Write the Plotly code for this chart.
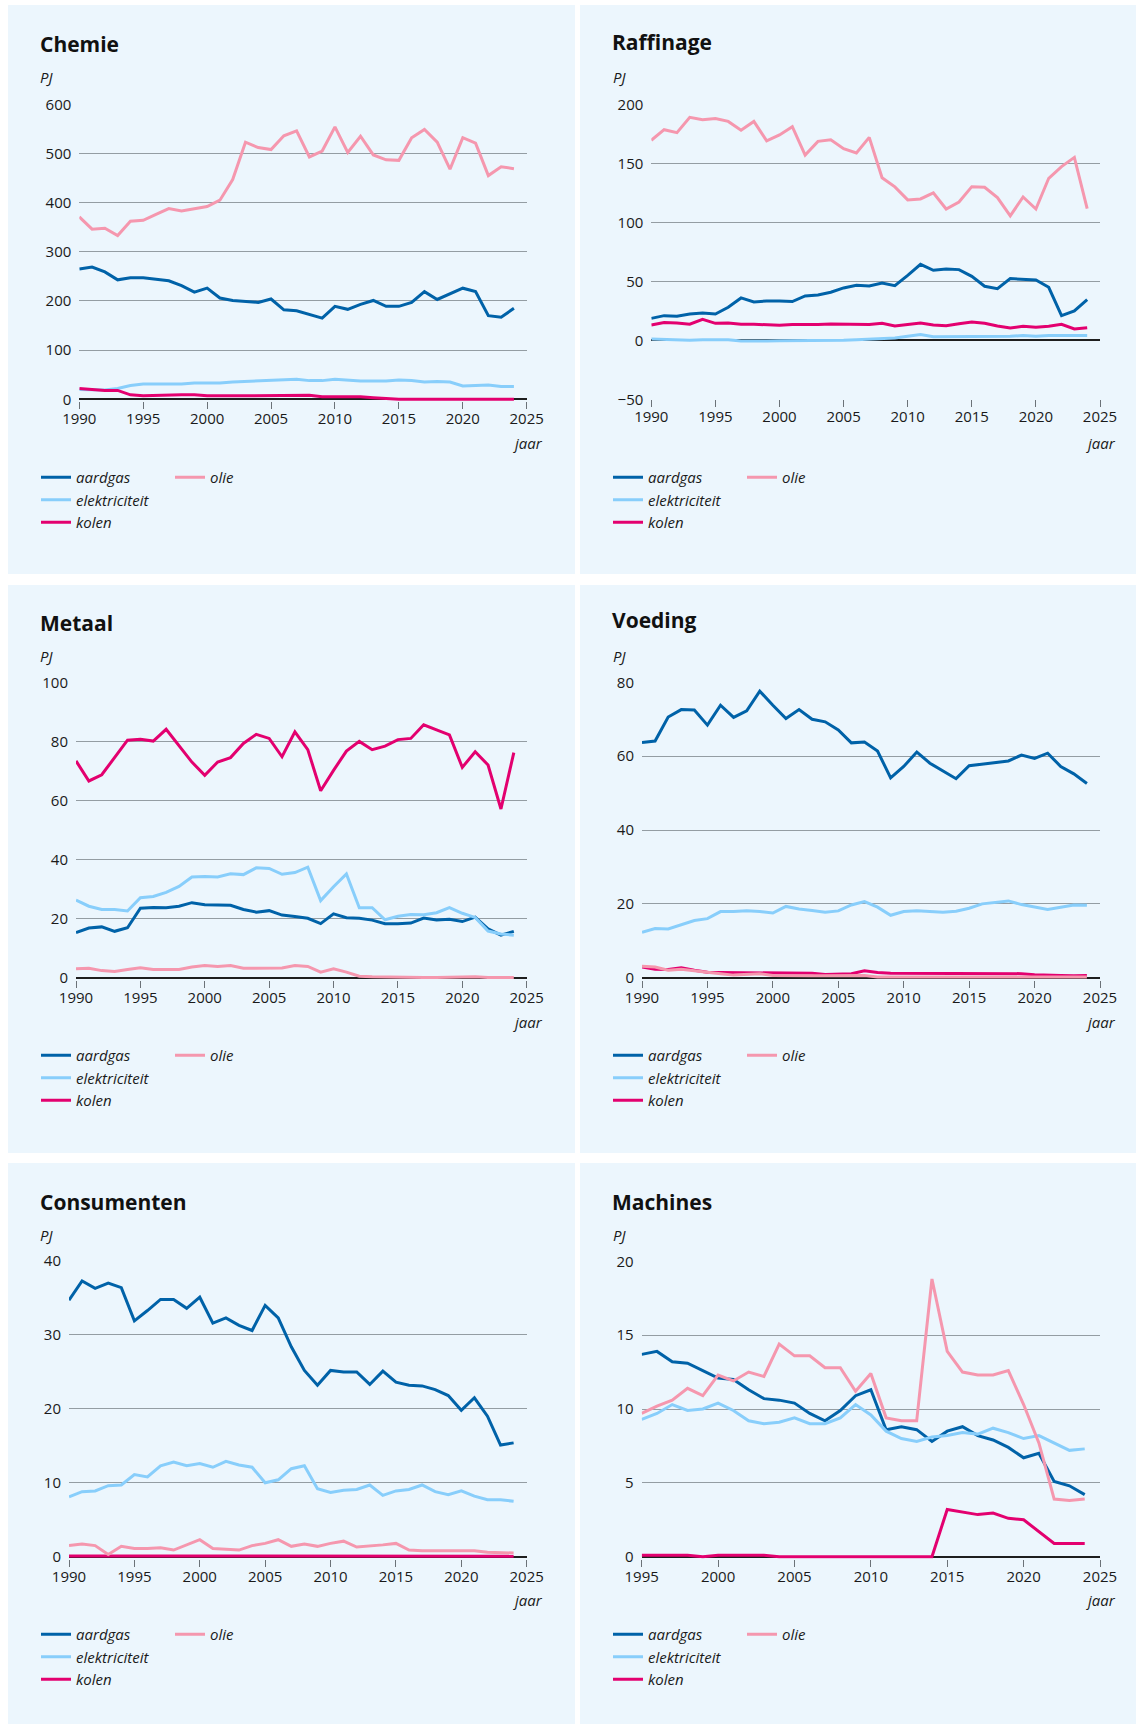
import plotly.graph_objects as go

W, H = 1136, 1724

# ---------------- data ----------------
years = list(range(1990, 2025))
years_machines = list(range(1995, 2025))
x_ticks = [1990, 1995, 2000, 2005, 2010, 2015, 2020, 2025]
x_ticks_machines = [1995, 2000, 2005, 2010, 2015, 2020, 2025]

series_names = ["aardgas", "elektriciteit", "kolen", "olie"]
panel_titles = ["Chemie", "Raffinage", "Metaal", "Voeding", "Consumenten", "Machines"]

chemie_aardgas = [265, 269, 259, 243, 247, 247, 244, 241, 231, 218, 226, 206, 201, 199, 197, 204, 182, 180, 172, 165,
                  189, 183, 193, 201, 189, 189, 197, 219, 203, 214, 226, 219, 170, 167, 185]
chemie_elektriciteit = [20, 20, 19, 22, 28, 31, 31, 31, 31, 33, 33, 33, 35, 36, 37, 38, 39, 41, 38, 38,
                        41, 39, 37, 37, 37, 39, 38, 35, 36, 35, 27, 28, 29, 26, 26]
chemie_kolen = [22, 20, 18, 18, 9, 7, 8, 9, 9, 9, 7, 7, 7, 7, 7, 7, 7, 7, 8, 5,
                5, 6, 5, 3, 1, 0, 0, 0, 0, 0, 0, 0, 0, 0, 0]
chemie_olie = [371, 346, 348, 333, 362, 364, 376, 388, 383, 388, 392, 405, 447, 523, 512, 508, 536, 546, 493, 505,
               554, 502, 535, 497, 487, 486, 532, 549, 523, 468, 532, 521, 455, 473, 469]

raffinage_aardgas = [18.6, 20.9, 20.3, 22.3, 23.2, 22.3, 28.0, 35.9, 32.5, 33.3, 33.3, 32.8, 37.6, 38.4, 40.7, 44.4,
                     46.6, 46.0, 48.6, 46.3, 55.0, 64.4, 59.3, 60.5, 59.9, 54.2, 45.8, 43.8, 52.3, 51.7, 51.1, 44.9,
                     20.9, 24.9, 34.5]
raffinage_elektriciteit = [1.0, 0.5, 0.0, 0.0, 0.5, 0.5, 0.5, -0.5, -0.8, -0.5, -0.3, -0.3, -0.5, -0.3, -0.5, 0.0,
                           0.5, 1.0, 1.0, 2.0, 3.5, 5.0, 3.0, 3.0, 3.0, 3.0, 3.0, 3.5, 3.5, 4.0, 3.5, 4.0, 4.0, 4.0, 4.0]
raffinage_kolen = [13.0, 15.0, 14.7, 13.6, 17.8, 14.4, 14.7, 13.6, 13.6, 13.0, 12.7, 13.3, 13.0, 13.3, 13.8, 13.6,
                   13.0, 13.3, 14.4, 12.1, 13.3, 14.7, 13.0, 12.4, 14.1, 15.5, 14.4, 12.1, 10.5, 11.9, 11.0, 11.9,
                   13.6, 9.6, 10.7]
raffinage_olie = [169.5, 178.5, 176, 189, 187, 188, 185.5, 178, 185.5, 169, 174, 181, 157, 168.6, 170, 162.4, 158.8,
                  172, 137.8, 130, 119, 119.8, 125, 111.3, 117.2, 130.2, 129.7, 121, 105.4, 121.5, 111.3, 137.3,
                  147.2, 155, 111.6]

metaal_aardgas = [15.3, 16.8, 17.2, 15.7, 16.9, 23.5, 23.8, 23.7, 24.2, 25.4, 24.7, 24.6, 24.5, 23.1, 22.2, 22.7,
                  21.2, 20.7, 20.1, 18.3, 21.6, 20.3, 20.1, 19.5, 18.3, 18.3, 18.5, 20.2, 19.5, 19.8, 19.0, 20.5,
                  16.5, 14.4, 15.7]
metaal_elektriciteit = [26.3, 24.2, 23.1, 23.1, 22.6, 27.1, 27.5, 28.9, 30.9, 34.1, 34.3, 34.1, 35.2, 34.9, 37.2,
                        37.0, 35.0, 35.6, 37.4, 26.1, 30.8, 35.1, 23.7, 23.7, 19.6, 20.8, 21.4, 21.3, 22.0, 23.7,
                        21.8, 20.4, 15.8, 14.8, 14.4]
metaal_kolen = [73.4, 66.6, 68.7, 74.6, 80.4, 80.7, 80.1, 84.1, 78.4, 73.0, 68.5, 73.0, 74.5, 79.3, 82.4, 81.0,
                74.8, 83.2, 77.2, 63.3, 70.2, 76.7, 80.0, 77.2, 78.4, 80.6, 81.0, 85.6, 83.9, 82.2, 71.2, 76.5,
                72.0, 57.1, 76.2]
metaal_olie = [3.0, 3.2, 2.4, 2.1, 2.8, 3.4, 2.8, 2.7, 2.8, 3.6, 4.1, 3.8, 4.1, 3.2, 3.3, 3.3, 3.3, 4.1, 3.8, 1.9,
               3.0, 1.9, 0.5, 0.3, 0.2, 0.1, 0.0, 0.1, 0.1, 0.2, 0.2, 0.3, 0.1, 0.1, 0.1]

voeding_aardgas = [63.7, 64.1, 70.6, 72.6, 72.5, 68.4, 73.8, 70.5, 72.3, 77.6, 73.8, 70.2, 72.6, 70.0, 69.3, 67.1,
                   63.6, 63.8, 61.4, 54.1, 57.2, 61.1, 58.1, 56.1, 53.9, 57.4, 57.9, 58.3, 58.7, 60.3, 59.4, 60.8,
                   57.2, 55.2, 52.6]
voeding_elektriciteit = [12.3, 13.3, 13.2, 14.4, 15.5, 16.0, 17.9, 17.9, 18.1, 17.9, 17.5, 19.3, 18.6, 18.2, 17.7,
                         18.1, 19.7, 20.6, 19.1, 16.9, 17.9, 18.1, 18.0, 17.7, 18.0, 18.8, 20.0, 20.5, 20.8, 19.8,
                         19.1, 18.5, 19.1, 19.7, 19.6]
voeding_kolen = [2.9, 2.3, 2.2, 2.7, 2.0, 1.5, 1.4, 1.4, 1.3, 1.3, 1.4, 1.4, 1.4, 1.2, 0.9, 0.9, 1.1, 1.9, 1.4, 1.2,
                 1.2, 1.2, 1.2, 1.2, 1.2, 1.0, 1.1, 1.1, 1.1, 1.1, 0.8, 0.8, 0.6, 0.5, 0.6]
voeding_olie = [3.1, 2.9, 2.0, 2.3, 1.9, 1.4, 1.1, 0.7, 0.9, 1.1, 0.6, 0.5, 0.5, 0.5, 0.5, 0.6, 0.7, 0.6, 0.2, 0.2,
                0.2, 0.3, 0.3, 0.2, 0.3, 0.3, 0.2, 0.2, 0.2, 0.2, 0.3, 0.3, 0.2, 0.2, 0.2]

consumenten_aardgas = [34.7, 37.3, 36.3, 37.0, 36.4, 31.9, 33.3, 34.8, 34.8, 33.6, 35.1, 31.6, 32.3, 31.3, 30.6,
                       34.0, 32.3, 28.4, 25.2, 23.2, 25.2, 25.0, 25.0, 23.3, 25.1, 23.6, 23.2, 23.1, 22.6, 21.8,
                       19.8, 21.5, 19.0, 15.1, 15.4]
consumenten_elektriciteit = [8.1, 8.8, 8.9, 9.6, 9.7, 11.1, 10.8, 12.3, 12.8, 12.3, 12.6, 12.1, 12.9, 12.4, 12.1,
                             10.0, 10.4, 11.9, 12.3, 9.2, 8.7, 9.0, 9.1, 9.7, 8.3, 8.9, 9.1, 9.7, 8.8, 8.4, 8.9,
                             8.2, 7.7, 7.7, 7.5]
consumenten_kolen = [0.1, 0.1, 0.1, 0.1, 0.1, 0.1, 0.1, 0.1, 0.1, 0.1, 0.1, 0.1, 0.15, 0.1, 0.1, 0.15, 0.05, 0.05,
                     0.05, 0.05, 0.05, 0.05, 0.05, 0.05, 0.05, 0.05, 0.05, 0.05, 0.05, 0.05, 0.05, 0.05, 0.05,
                     0.05, 0.05]
consumenten_olie = [1.5, 1.7, 1.5, 0.3, 1.4, 1.1, 1.1, 1.2, 0.9, 1.6, 2.3, 1.1, 1.0, 0.9, 1.5, 1.8, 2.3, 1.4, 1.7,
                    1.4, 1.8, 2.1, 1.3, 1.4, 1.6, 1.8, 0.9, 0.8, 0.8, 0.9, 0.8, 0.8, 0.6, 0.5, 0.5]

machines_aardgas = [13.7, 13.9, 13.2, 13.1, 12.6, 12.1, 12.0, 11.3, 10.7, 10.6, 10.4, 9.7, 9.2, 9.9, 10.9, 11.3,
                    8.6, 8.8, 8.6, 7.8, 8.5, 8.8, 8.2, 7.9, 7.4, 6.7, 7.0, 5.1, 4.8, 4.2]
machines_elektriciteit = [9.3, 9.7, 10.3, 9.9, 10.0, 10.4, 9.9, 9.2, 9.0, 9.1, 9.4, 9.0, 9.0, 9.4, 10.3, 9.6, 8.5,
                          8.0, 7.8, 8.1, 8.2, 8.4, 8.3, 8.7, 8.4, 8.0, 8.2, 7.7, 7.2, 7.3]
machines_kolen = [0.1, 0.1, 0.1, 0.1, 0.0, 0.1, 0.1, 0.1, 0.1, 0.0, 0.0, 0.0, 0.0, 0.0, 0.0, 0.0, 0.0, 0.0, 0.0,
                  0.0, 3.2, 3.0, 2.85, 2.95, 2.6, 2.5, 1.7, 0.9, 0.9, 0.9]
machines_olie = [9.7, 10.2, 10.6, 11.4, 10.9, 12.3, 11.9, 12.5, 12.2, 14.4, 13.6, 13.6, 12.8, 12.8, 11.2, 12.4, 9.4,
                 9.2, 9.2, 18.8, 13.9, 12.5, 12.3, 12.3, 12.6, 10.3, 7.7, 3.9, 3.8, 3.9]

panel_data = [
    (years, [chemie_aardgas, chemie_elektriciteit, chemie_kolen, chemie_olie]),
    (years, [raffinage_aardgas, raffinage_elektriciteit, raffinage_kolen, raffinage_olie]),
    (years, [metaal_aardgas, metaal_elektriciteit, metaal_kolen, metaal_olie]),
    (years, [voeding_aardgas, voeding_elektriciteit, voeding_kolen, voeding_olie]),
    (years, [consumenten_aardgas, consumenten_elektriciteit, consumenten_kolen, consumenten_olie]),
    (years_machines, [machines_aardgas, machines_elektriciteit, machines_kolen, machines_olie]),
]
y_ranges = [(0, 600, 100), (-50, 200, 50), (0, 100, 20), (0, 80, 20), (0, 40, 10), (0, 20, 5)]
x_ranges = [(1990, 2025, x_ticks)] * 5 + [(1995, 2025, x_ticks_machines)]

# ---------------- style / layout ----------------
colors = {"aardgas": "#0062a8", "elektriciteit": "#88cefb", "kolen": "#e3006f", "olie": "#f597ae"}
BG = "#ecf6fd"
FONT = "Open Sans"
TXT = "#1a1a1a"

# panel geometry in pixels (from top-left): background box, plot box, title/PJ/jaar/legend rows
panels = [
    dict(bg=(8, 575, 5, 574), plot=(79.3, 526.7, 104.3, 399.3), title=(38, 44.5), pj=(38, 77), jaar=(545, 443), leg=475),
    dict(bg=(580, 1136, 5, 574), plot=(651.3, 1100, 104.3, 399.3), title=(610, 42), pj=(610.6, 77), jaar=(1118, 443), leg=475),
    dict(bg=(8, 575, 585, 1153), plot=(76, 526.7, 682.3, 977.7), title=(38, 622.5), pj=(38, 656), jaar=(545, 1022), leg=1053),
    dict(bg=(580, 1136, 585, 1153), plot=(642, 1100, 682.3, 977.7), title=(610, 620.5), pj=(610.6, 656), jaar=(1118, 1022), leg=1053),
    dict(bg=(8, 575, 1163, 1724), plot=(69, 526.7, 1261, 1556.7), title=(38, 1201.5), pj=(38, 1235), jaar=(545, 1600), leg=1632),
    dict(bg=(580, 1136, 1163, 1724), plot=(641.7, 1100, 1261.3, 1556.7), title=(610, 1201.5), pj=(610.6, 1235), jaar=(1118, 1600), leg=1632),
]

def px(x):
    return x / W

def py(y):
    return 1 - y / H

fig = go.Figure()
layout = dict(
    width=W, height=H, margin=dict(l=0, r=0, t=0, b=0, autoexpand=False),
    paper_bgcolor="white", plot_bgcolor="rgba(0,0,0,0)", showlegend=True,
    font=dict(family=FONT, size=15, color=TXT),
)
shapes, annotations = [], []
PAD = 2.0  # px of room below the zero line so lines at 0 are not clipped

for i, (p, (xs, ser), (ymin, ymax, dy), (xmin, xmax, xt)) in enumerate(zip(panels, panel_data, y_ranges, x_ranges)):
    k = i + 1
    ax = "" if k == 1 else str(k)
    x0, x1, yt, yb = p["plot"]
    unit_per_px = (ymax - ymin) / (yb - yt)
    lo = ymin - PAD * unit_per_px if ymin == 0 else ymin
    yb_eff = yb + PAD if ymin == 0 else yb

    leg_a = "legend" if k == 1 else f"legend{2 * k - 1}"
    leg_b = f"legend{2 * k}"
    for name, vals in zip(series_names, ser):
        fig.add_trace(go.Scatter(
            x=xs, y=vals, mode="lines", name=name,
            line=dict(color=colors[name], width=3),
            xaxis=f"x{ax}", yaxis=f"y{ax}",
            legend=leg_b if name == "olie" else leg_a,
            legendgroup=f"{k}-{name}",
            hoverinfo="skip",
        ))

    layout[f"xaxis{ax}"] = dict(
        domain=[px(x0), px(x1)], anchor=f"y{ax}", range=[xmin, xmax], automargin=False,
        tickmode="array", tickvals=xt, ticks="outside", ticklen=7, tickwidth=1, tickcolor="#6b7278",
        showgrid=False, zeroline=False, showline=False,
        tickfont=dict(family=FONT, size=15, color=TXT), ticklabelstandoff=-3, fixedrange=True,
    )
    layout[f"yaxis{ax}"] = dict(
        domain=[py(yb_eff), py(yt)], anchor=f"x{ax}", range=[lo, ymax], automargin=False,
        tickmode="linear", tick0=ymin, dtick=dy, ticks="", showline=False,
        showgrid=True, gridcolor="#949da3", gridwidth=1,
        zeroline=True, zerolinecolor="#1e1e1e", zerolinewidth=1.6,
        tickfont=dict(family=FONT, size=15, color=TXT), ticklabelstandoff=7, fixedrange=True,
    )

    bx0, bx1, by0, by1 = p["bg"]
    shapes.append(dict(type="rect", xref="paper", yref="paper", x0=px(bx0), x1=px(bx1), y0=py(by1), y1=py(by0),
                       fillcolor=BG, line=dict(width=0), layer="below"))

    tx, ty = p["title"]
    annotations.append(dict(text=f"<b>{panel_titles[i]}</b>", x=px(tx), y=py(ty), xref="paper", yref="paper",
                            xanchor="left", yanchor="middle", showarrow=False,
                            font=dict(family=FONT, size=21, color="#111111")))
    jx, jy = p["pj"]
    annotations.append(dict(text="PJ", x=px(jx), y=py(jy), xref="paper", yref="paper",
                            xanchor="left", yanchor="middle", showarrow=False,
                            font=dict(family=FONT, size=15, color=TXT, style="italic")))
    ax_, ay_ = p["jaar"]
    annotations.append(dict(text="jaar", x=px(ax_), y=py(ay_), xref="paper", yref="paper",
                            xanchor="right", yanchor="middle", showarrow=False,
                            font=dict(family=FONT, size=15, color=TXT, style="italic")))

    leg_font = dict(family=FONT, size=15, color=TXT, style="italic")
    lx = bx0 + 28
    layout[leg_a] = dict(x=px(lx), y=py(p["leg"] - 14), xref="paper", yref="paper",
                         xanchor="left", yanchor="top", bgcolor="rgba(0,0,0,0)", borderwidth=0,
                         font=leg_font, traceorder="normal", itemwidth=30, tracegroupgap=1.5,
                         itemclick=False, itemdoubleclick=False)
    layout[leg_b] = dict(x=px(lx + 134), y=py(p["leg"] - 14), xref="paper", yref="paper",
                         xanchor="left", yanchor="top", bgcolor="rgba(0,0,0,0)", borderwidth=0,
                         font=leg_font, traceorder="normal", itemwidth=30, tracegroupgap=1.5,
                         itemclick=False, itemdoubleclick=False)

layout["shapes"] = shapes
layout["annotations"] = annotations
fig.update_layout(**layout)
fig.write_html("out.html", config={"displayModeBar": False, "staticPlot": False},
               post_script="document.body.style.margin='0px';document.body.style.overflow='hidden';")
